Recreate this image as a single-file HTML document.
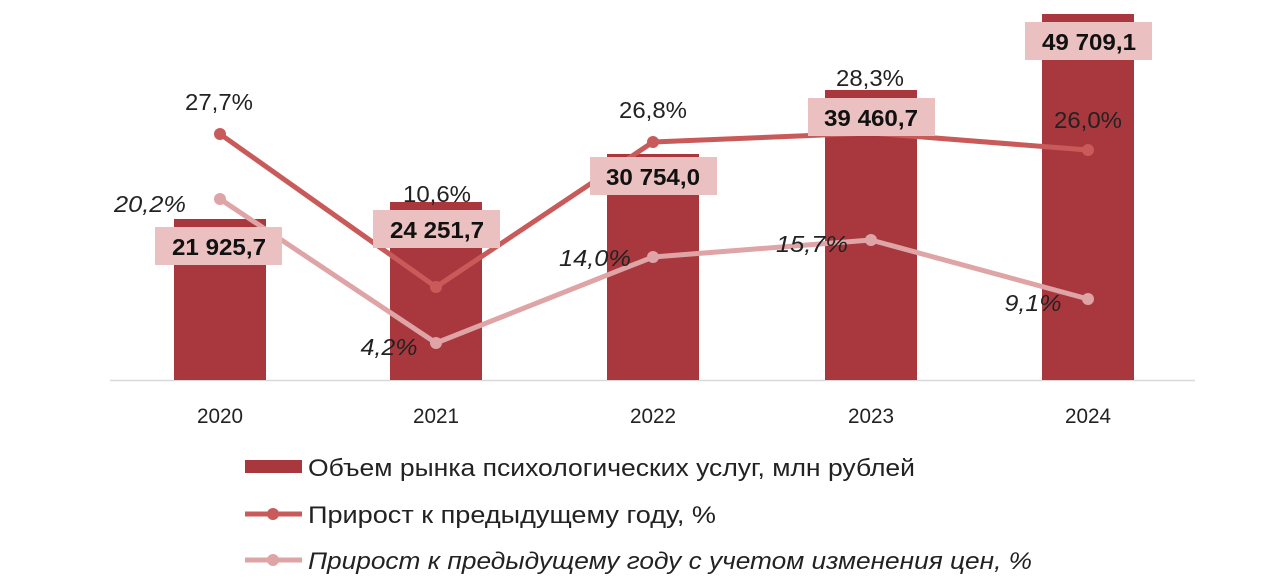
<!DOCTYPE html>
<html><head><meta charset="utf-8"><style>
html,body{margin:0;padding:0;background:#fff;}
svg{display:block;font-family:"Liberation Sans","DejaVu Sans",sans-serif;}
</style></head><body>
<svg width="1285" height="586" viewBox="0 0 1285 586" xmlns="http://www.w3.org/2000/svg">
<line x1="110" y1="380.5" x2="1195" y2="380.5" stroke="#d9d9d9" stroke-width="1.5"/>
<g fill="#a8383d">
<rect x="174" y="219" width="92" height="161"/>
<rect x="390" y="202" width="92" height="178"/>
<rect x="607" y="154" width="92" height="226"/>
<rect x="825" y="90" width="92" height="290"/>
<rect x="1042" y="14" width="92" height="366"/>
</g>
<polyline points="220,134 436,287 653,142 871,133 1088,150" fill="none" stroke="#c95a5a" stroke-width="5" stroke-linejoin="round"/>
<g fill="#c95a5a"><circle cx="220" cy="134" r="6"/><circle cx="436" cy="287" r="6"/><circle cx="653" cy="142" r="6"/><circle cx="1088" cy="150" r="6"/></g>
<polyline points="220,199 436,343 653,257 871,240 1088,299" fill="none" stroke="#dea4a6" stroke-width="5" stroke-linejoin="round"/>
<g fill="#dea4a6"><circle cx="220" cy="199" r="6"/><circle cx="436" cy="343" r="6"/><circle cx="653" cy="257" r="6"/><circle cx="871" cy="240" r="6"/><circle cx="1088" cy="299" r="6"/></g>
<g fill="#ebc0c0">
<rect x="155" y="227" width="127" height="38"/>
<rect x="373" y="210" width="127" height="38"/>
<rect x="590" y="157" width="127" height="38"/>
<rect x="808" y="98" width="127" height="38"/>
<rect x="1025" y="22" width="127" height="38"/>
</g>
<g font-size="23" font-weight="bold" fill="#111" text-anchor="middle">
<text x="219" y="255" textLength="94" lengthAdjust="spacingAndGlyphs">21 925,7</text>
<text x="437" y="238" textLength="94" lengthAdjust="spacingAndGlyphs">24 251,7</text>
<text x="653" y="185" textLength="94" lengthAdjust="spacingAndGlyphs">30 754,0</text>
<text x="871" y="126" textLength="94" lengthAdjust="spacingAndGlyphs">39 460,7</text>
<text x="1089" y="50" textLength="94" lengthAdjust="spacingAndGlyphs">49 709,1</text>
</g>
<g font-size="23" fill="#222" text-anchor="middle">
<text x="219" y="110" textLength="68" lengthAdjust="spacingAndGlyphs">27,7%</text>
<text x="437" y="202" textLength="68" lengthAdjust="spacingAndGlyphs">10,6%</text>
<text x="653" y="118" textLength="68" lengthAdjust="spacingAndGlyphs">26,8%</text>
<text x="870" y="86" textLength="68" lengthAdjust="spacingAndGlyphs">28,3%</text>
<text x="1088" y="128" textLength="68" lengthAdjust="spacingAndGlyphs">26,0%</text>
</g>
<g font-size="23" fill="#222" text-anchor="middle" font-style="italic">
<text x="150" y="212" textLength="72" lengthAdjust="spacingAndGlyphs">20,2%</text>
<text x="389" y="355" textLength="57" lengthAdjust="spacingAndGlyphs">4,2%</text>
<text x="595" y="266" textLength="72" lengthAdjust="spacingAndGlyphs">14,0%</text>
<text x="812" y="252" textLength="72" lengthAdjust="spacingAndGlyphs">15,7%</text>
<text x="1033" y="311" textLength="57" lengthAdjust="spacingAndGlyphs">9,1%</text>
</g>
<g font-size="21" fill="#222" text-anchor="middle">
<text x="220" y="423" textLength="46" lengthAdjust="spacingAndGlyphs">2020</text>
<text x="436" y="423" textLength="46" lengthAdjust="spacingAndGlyphs">2021</text>
<text x="653" y="423" textLength="46" lengthAdjust="spacingAndGlyphs">2022</text>
<text x="871" y="423" textLength="46" lengthAdjust="spacingAndGlyphs">2023</text>
<text x="1088" y="423" textLength="46" lengthAdjust="spacingAndGlyphs">2024</text>
</g>
<rect x="245" y="460" width="57" height="13" fill="#a8383d"/>
<line x1="245" y1="514" x2="302" y2="514" stroke="#c95a5a" stroke-width="5"/>
<circle cx="273" cy="514" r="6" fill="#c95a5a"/>
<line x1="245" y1="560" x2="302" y2="560" stroke="#dea4a6" stroke-width="5"/>
<circle cx="273" cy="560" r="6" fill="#dea4a6"/>
<g font-size="24" fill="#222">
<text x="308" y="476" textLength="607" lengthAdjust="spacingAndGlyphs">Объем рынка психологических услуг, млн рублей</text>
<text x="308" y="523" textLength="408" lengthAdjust="spacingAndGlyphs">Прирост к предыдущему году, %</text>
<text x="308" y="569" font-style="italic" textLength="724" lengthAdjust="spacingAndGlyphs">Прирост к предыдущему году с учетом изменения цен, %</text>
</g>
</svg>
</body></html>
